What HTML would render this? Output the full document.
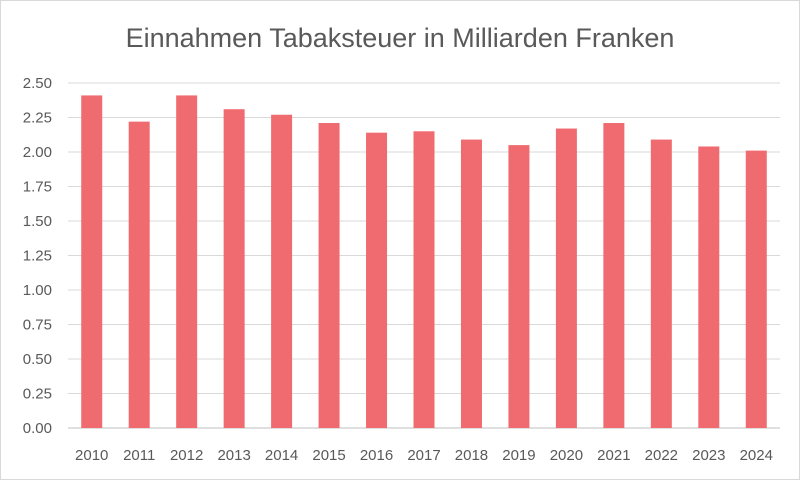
<!DOCTYPE html>
<html><head><meta charset="utf-8"><style>
body{margin:0;background:#fff;}
svg{display:block;font-family:"Liberation Sans",sans-serif;}
</style></head><body>
<svg id="chart" width="800" height="480">
<rect x="0.5" y="0.5" width="799" height="479" fill="#fff" stroke="#d9d9d9"/>
<text x="400" y="47" text-anchor="middle" font-size="27" fill="#595959">Einnahmen Tabaksteuer in Milliarden Franken</text>
<g id="grid"></g><g id="bars"></g><g id="xlabels"></g><g id="ylabels"></g>
</svg>
<script>
const categories=["2010","2011","2012","2013","2014","2015","2016","2017","2018","2019","2020","2021","2022","2023","2024"];
const values=[2.41,2.22,2.41,2.31,2.27,2.21,2.14,2.15,2.09,2.05,2.17,2.21,2.09,2.04,2.01];
const yTicks=["0.00","0.25","0.50","0.75","1.00","1.25","1.50","1.75","2.00","2.25","2.50"];
const NS="http://www.w3.org/2000/svg";
const x0=68,x1=780,y0=428,yTop=83,yMax=2.5;
const band=(x1-x0)/categories.length;
const y=v=>y0-(v/yMax)*(y0-yTop);
const xc=i=>x0+band*(i+0.5);
function mk(t,a,p){const e=document.createElementNS(NS,t);for(const k in a)e.setAttribute(k,a[k]);p.appendChild(e);return e;}
const grid=document.getElementById('grid'),bars=document.getElementById('bars'),xl=document.getElementById('xlabels'),yl=document.getElementById('ylabels');
yTicks.forEach(t=>{const v=parseFloat(t);
const l=mk('line',{x1:x0,x2:x1,y1:y(v),y2:y(v),stroke:v===0?'#bfbfbf':'#d9d9d9','stroke-width':1},grid);


const tx=mk('text',{x:52,y:y(v)+5,'text-anchor':'end','font-size':15,fill:'#595959'},yl);tx.textContent=t;

});
categories.forEach((c,i)=>{const bw=21;
const r=mk('rect',{x:xc(i)-bw/2,y:y(values[i]),width:bw,height:y0-y(values[i]),fill:'#ef6b6f'},bars);


const t=mk('text',{x:xc(i),y:460,'text-anchor':'middle','font-size':15,fill:'#595959'},xl);t.textContent=c;

});
</script>
</body></html>
